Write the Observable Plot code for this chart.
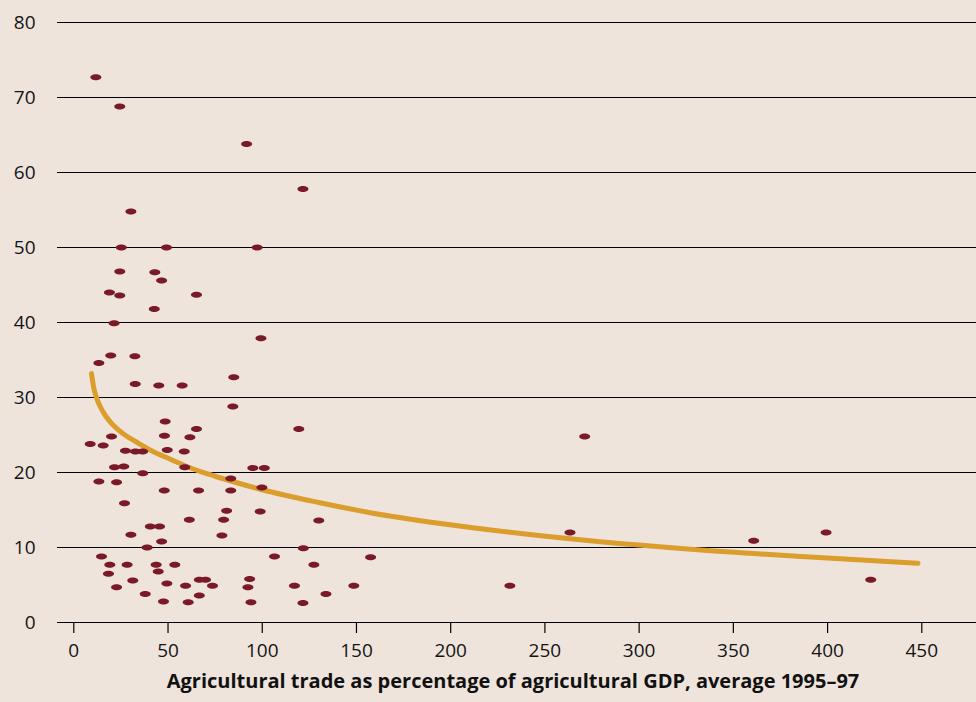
<!DOCTYPE html>
<html><head><meta charset="utf-8">
<script src="https://cdn.jsdelivr.net/npm/d3@7"></script>
<script src="https://cdn.jsdelivr.net/npm/@observablehq/plot@0.6"></script>
<style>
html,body{margin:0;padding:0;background:#EEE4DC;}
#chart{width:976px;height:702px;overflow:hidden;}
svg{display:block;}
</style></head><body><div id="chart"></div>
<script>
// Agricultural trade as % of agricultural GDP (x) vs. value (y), one point per country
const tradeShare = [11.7,24.4,30.3,91.7,121.6,25.2,49.2,97.3,24.4,43.0,46.6,18.9,24.4,65.1,42.7,21.4,99.3,19.6,13.3,32.4,
  84.9,32.6,45.1,57.5,84.4,48.5,65.1,119.4,20.0,48.1,61.6,8.7,15.6,27.4,32.7,36.5,49.6,58.6,21.6,26.5,
  58.9,95.0,101.1,36.6,13.3,22.7,83.3,48.0,66.2,83.3,99.8,26.9,81.1,98.9,61.3,79.5,130.0,40.6,45.5,30.3,
  78.6,46.6,38.9,121.8,14.7,106.5,19.1,28.3,43.7,53.6,127.4,18.4,44.8,31.3,66.6,69.9,93.3,49.4,59.3,73.6,
  92.4,117.1,22.7,37.9,66.6,133.8,47.6,60.7,94.0,121.6,263.3,157.5,148.6,231.4,271.1,360.8,399.2,422.9];
const values = [72.7,68.8,54.8,63.8,57.8,50.0,50.0,50.0,46.8,46.7,45.6,44.0,43.6,43.7,41.8,39.9,37.9,35.6,34.6,35.5,
  32.7,31.8,31.6,31.6,28.8,26.8,25.8,25.8,24.8,24.9,24.7,23.8,23.6,22.9,22.8,22.8,23.0,22.8,20.7,20.8,
  20.7,20.6,20.6,19.9,18.8,18.7,19.2,17.6,17.6,17.6,18.0,15.9,14.9,14.8,13.7,13.7,13.6,12.8,12.8,11.7,
  11.6,10.8,10.0,9.9,8.8,8.8,7.7,7.7,7.7,7.7,7.7,6.5,6.8,5.6,5.7,5.7,5.8,5.2,4.9,4.9,
  4.7,4.9,4.7,3.8,3.6,3.8,2.8,2.7,2.7,2.6,12.0,8.7,4.9,4.9,24.8,10.9,12.0,5.7];

// Trend curve
const trendX = [9.4,10.5,12,14,17,21,26,33,42,51,62,75,87,100,130,158,216,270,331,393,448];
const trendY = [33.2,31.4,30.0,28.8,27.5,26.3,25.2,24.1,22.8,21.8,20.6,19.5,18.6,17.7,16.0,14.6,12.5,11.0,9.7,8.7,7.9];

const xTicks = [0,50,100,150,200,250,300,350,400,450];
const yTicks = [0,10,20,30,40,50,60,70,80];
const xTitle = "Agricultural trade as percentage of agricultural GDP, average 1995–97";

const points = tradeShare.map((x, i) => ({x, y: values[i]}));
const trend = trendX.map((x, i) => ({x, y: trendY[i]}));

const ellipse = {
  draw(ctx) {
    const rx = 5.5, ry = 3, k = 0.5523;
    ctx.moveTo(rx, 0);
    ctx.bezierCurveTo(rx, k * ry, k * rx, ry, 0, ry);
    ctx.bezierCurveTo(-k * rx, ry, -rx, k * ry, -rx, 0);
    ctx.bezierCurveTo(-rx, -k * ry, -k * rx, -ry, 0, -ry);
    ctx.bezierCurveTo(k * rx, -ry, rx, -k * ry, rx, 0);
    ctx.closePath();
  }
};

const chart = Plot.plot({
  width: 976, height: 702,
  marginLeft: 57, marginRight: 0, marginTop: 22, marginBottom: 80,
  style: {background: "#EEE4DC", fontFamily: "'Open Sans', sans-serif", fontSize: "19px", color: "#141414"},
  x: {domain: [0, 450], range: [73.3, 921.3]},
  y: {domain: [0, 80], range: [622, 22]},
  marks: [
    Plot.ruleY(yTicks, {stroke: "#000", strokeWidth: 1.2}),
    Plot.axisY({ticks: yTicks, tickSize: 0, tickPadding: 22, label: null, fontSize: 19, fontWeight: 500}),
    Plot.axisX({ticks: xTicks, tickSize: 11, tickPadding: 10, label: null, stroke: "#000", strokeWidth: 1.2, fontSize: 19, fontWeight: 500}),
    Plot.line(trend, {x: "x", y: "y", stroke: "#DB9D2C", strokeWidth: 5, curve: "monotone-x", strokeLinecap: "round"}),
    Plot.dot(points, {x: "x", y: "y", symbol: ellipse, fill: "#7A1A28", stroke: "none"}),
    Plot.text([xTitle], {frameAnchor: "bottom", dx: -4, dy: 65, fontWeight: "bold", fontSize: 20, fill: "#111"})
  ]
});
document.getElementById("chart").appendChild(chart);
</script></body></html>
